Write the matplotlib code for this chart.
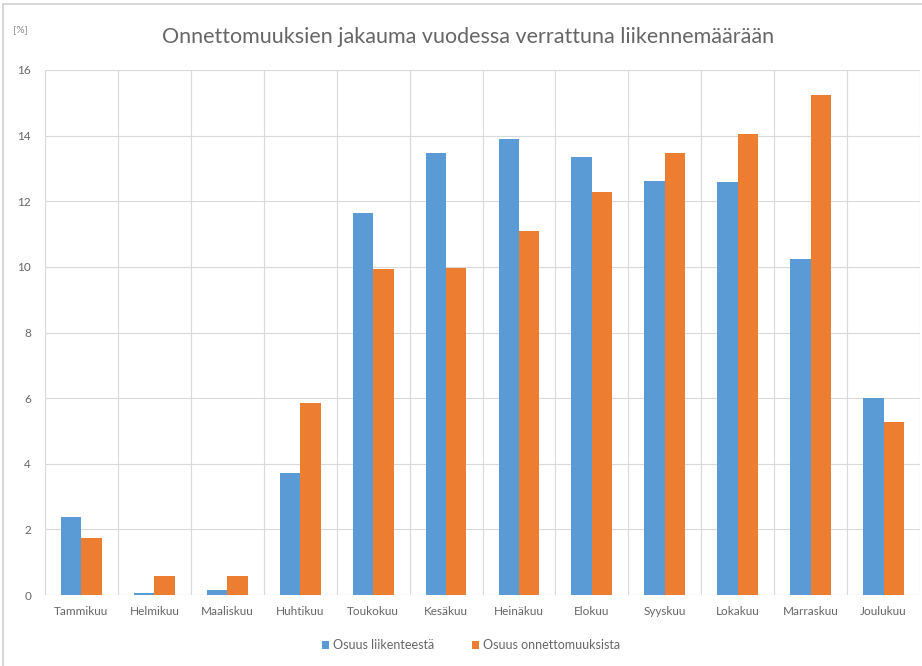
import numpy as np
import matplotlib.pyplot as plt
from matplotlib.patches import Rectangle

# Data
months = ["Tammikuu", "Helmikuu", "Maaliskuu", "Huhtikuu", "Toukokuu", "Kesäkuu",
          "Heinäkuu", "Elokuu", "Syyskuu", "Lokakuu", "Marraskuu", "Joulukuu"]
osuus_liikenteesta = [2.38, 0.05, 0.15, 3.72, 11.65, 13.48, 13.9, 13.35, 12.62, 12.6, 10.24, 6.0]
osuus_onnettomuuksista = [1.74, 0.58, 0.58, 5.85, 9.94, 9.97, 11.1, 12.29, 13.48, 14.05, 15.24, 5.27]

blue = "#5B9BD5"
orange = "#ED7D31"
grid_col = "#D9D9D9"
text_col = "#666666"

plt.rcParams["font.family"] = ["Lato", "DejaVu Sans"]

fig = plt.figure(figsize=(9.22, 6.66), dpi=100)
ax = fig.add_axes([45 / 922, 1 - 595 / 666, 875 / 922, 525 / 666])

x = np.arange(len(months))
w = 0.28
ax.bar(x - w / 2, osuus_liikenteesta, w, color=blue, label="Osuus liikenteestä", zorder=3)
ax.bar(x + w / 2, osuus_onnettomuuksista, w, color=orange, label="Osuus onnettomuuksista", zorder=3)

ax.set_xlim(-0.5, len(months) - 0.5)
ax.set_ylim(0, 16)
ax.set_yticks(np.arange(0, 17, 2))
ax.set_xticks(x)
ax.set_xticklabels(months)
ax.set_xticks(np.arange(-0.5, len(months)), minor=True)
ax.grid(axis="y", which="major", color=grid_col, lw=0.8, zorder=0)
ax.grid(axis="x", which="minor", color=grid_col, lw=0.8, zorder=0)
ax.tick_params(axis="both", which="both", length=0, colors=text_col, labelsize=8.5)
ax.tick_params(axis="x", pad=8)
ax.tick_params(axis="y", pad=10)
for s in ax.spines.values():
    s.set_visible(False)
ax.axhline(0, color=grid_col, lw=0.8, zorder=2)

fig.text(468 / 922, 1 - 37 / 666, "Onnettomuuksien jakauma vuodessa verrattuna liikennemäärään",
         ha="center", va="center", fontsize=15.5, color=text_col)
fig.text(20 / 922, 1 - 30 / 666, "[%]", ha="center", va="center", fontsize=7.5, color="#8C8C8C")

fig.legend(loc="center", bbox_to_anchor=(471 / 922, 1 - 645 / 666), ncol=2, frameon=False,
           fontsize=9, handlelength=0.6, handleheight=0.6, handletextpad=0.3,
           columnspacing=3.0, labelcolor=text_col)

# chart frame
fig.patches.append(Rectangle((3 / 922, -0.01), 1.02, 1 - 4 / 666 + 0.01, transform=fig.transFigure,
                             fill=False, edgecolor="#D0D0D0", lw=1.2))

fig.savefig("out.png", dpi=100)
